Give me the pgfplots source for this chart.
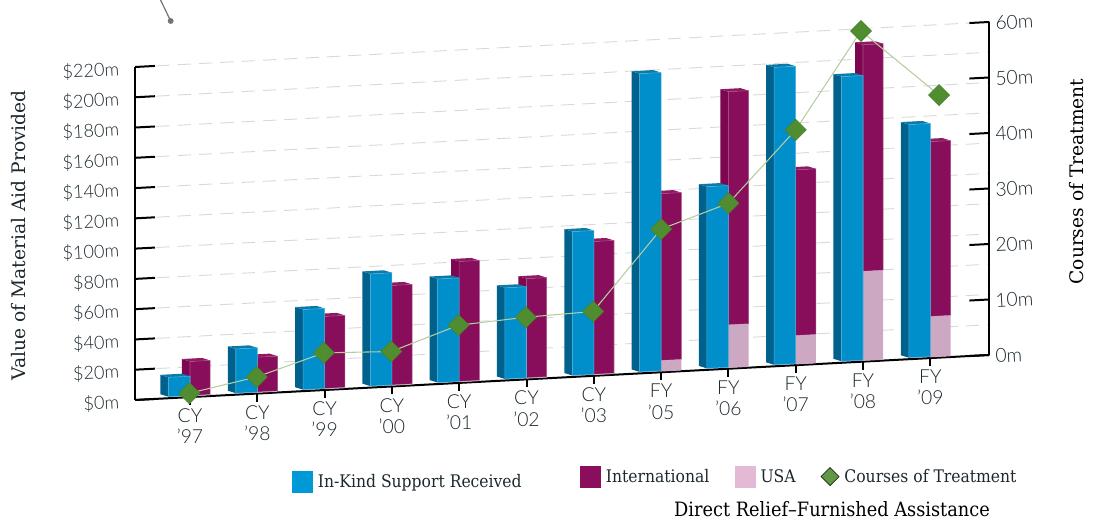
\documentclass[border=0pt]{standalone}
\usepackage{fontspec}
\usepackage{pgfplots}
\pgfplotsset{compat=1.18}
\setmainfont{Lato}
\newfontfamily\lightf{Lato Light}
\newfontfamily\slab{DejaVu Serif}
\newfontfamily\slabc{DejaVu Serif Condensed}
\definecolor{blueF}{HTML}{008FCA}
\definecolor{blueS}{HTML}{00628C}
\definecolor{blueT}{HTML}{0A7BA8}
\definecolor{blueE}{HTML}{4FB0DC}
\definecolor{intF}{HTML}{880D5B}
\definecolor{intS}{HTML}{7C0650}
\definecolor{intT}{HTML}{8F1A63}
\definecolor{intE}{HTML}{A9508A}
\definecolor{usaF}{HTML}{CDA8C3}
\definecolor{legBlue}{HTML}{0099D8}
\definecolor{legInt}{HTML}{8A0E5C}
\definecolor{legUsa}{HTML}{E3B9D6}
\definecolor{green}{HTML}{4F8D30}
\definecolor{greenL}{HTML}{B4CDA2}
\definecolor{ink}{HTML}{1C282E}

\pgfplotsset{
  skewbase/.style={
    clip=false,
    xmin=-0.817, xmax=11.877,
    at={(142.5pt,92.175pt)}, anchor=origin,
    axis line style={black,line width=1.5pt},
    major tick style={black,line width=1.5pt},
    tick label style={font=\lightf\fontsize{14.5}{16}\selectfont,text=ink},
    /pgf/number format/assume math mode=true,
    every axis y label/.style={rotate=90,anchor=center,font=\slab\fontsize{14}{16}\selectfont},
    legend cell align=left,
    legend style={draw=none,fill=none,inner sep=0pt,outer sep=0pt,
      font=\slabc\fontsize{13}{15}\selectfont,text=ink,anchor=west,
      /tikz/every odd column/.append style={column sep=2pt},
      /tikz/every even column/.append style={column sep=17pt},
      /tikz/column 4/.append style={column sep=20.75pt},
      /tikz/column 5/.append style={column sep=0pt}},
  },
  swatch/.style={legend image code/.code={\fill[#1] (0pt,-8pt) rectangle (15pt,8pt);}},
}

\begin{document}
\begin{tikzpicture}
\useasboundingbox (0pt,0pt) rectangle (821.25pt,390pt);

% left axis: bars, value in $m
\begin{axis}[skewbase,
    x={(50.475pt,2.66pt)}, y={(0pt,1.13523pt)},
    ymin=0, ymax=220,
    axis x line*=bottom, axis y line*=left,
    ytick={0,20,...,220},
    yticklabel={\$\pgfmathprintnumber{\tick}m},
    yticklabel style={font=\lightf\fontsize{13.6}{16}\selectfont,anchor=east,rotate=3,xshift=-8.5pt,yshift=-1pt},
    ytick align=inside, xtick align=outside,
    y tick style={/pgfplots/major tick length=15pt},
    x tick style={/pgfplots/major tick length=6pt},
    xtick={0,...,11},
    xticklabels={{CY\\’97},{CY\\’98},{CY\\’99},{CY\\’00},{CY\\’01},{CY\\’02},{CY\\’03},{FY\\’05},{FY\\’06},{FY\\’07},{FY\\’08},{FY\\’09}},
    xticklabel style={align=center,anchor=north,yshift=-1pt},
    ymajorgrids,
    grid style={gray!30,line width=0.7pt,dash pattern=on 10pt off 6pt},
    ylabel={Value of Material Aid Provided},
    ylabel style={at={(axis description cs:-0.1358,0.436)},text=ink},
    legend style={at={(axis description cs:0.1838,-0.217)}},
  ]
  \addlegendimage{swatch=legBlue}
  \addlegendentry{In-Kind Support Received}
  \foreach \i/\b/\n/\u in {0/13.8/23.5/1, 1/30.2/24/1, 2/53.9/48.6/1, 3/75.1/66.7/1,
      4/69.4/80.2/1, 5/61.2/66.5/1, 6/96/88.7/1, 7/198/118/7.8,
      8/121/183/29, 9/197.5/129/19.6, 10/189/209.3/59.7, 11/155/143/27.5}{
    \pgfmathsetmacro\xa{\i-0.32}
    \pgfmathsetmacro\xc{\i+0.30}
    \pgfmathsetmacro\xab{\xa-0.119}
    \pgfmathsetmacro\xbb{\i-0.119}
    \pgfmathsetmacro\xcb{\xc-0.119}
    \pgfmathsetmacro\bb{\b+1.93}
    \pgfmathsetmacro\nb{\n+1.93}
    % international: usa foot, front, side and top
    \edef\temp{
      \noexpand\addplot[forget plot,fill=intS,draw=none] coordinates {(\xbb,1) (\i,1) (\i,\n) (\xbb,\nb)} --cycle;
      \noexpand\addplot[forget plot,fill=intT,draw=none] coordinates {(\xbb,\nb) (\i,\n) (\xc,\n) (\xcb,\nb)} --cycle;
      \noexpand\addplot[forget plot,fill=intF,draw=intE,line width=0.4pt] coordinates {(\i,\u) (\xc,\u) (\xc,\n) (\i,\n)} --cycle;
      \noexpand\addplot[forget plot,fill=usaF,draw=none] coordinates {(\i,0.5) (\xc,0.5) (\xc,\u) (\i,\u)} --cycle;
      \noexpand\addplot[forget plot,fill=blueS,draw=none] coordinates {(\xab,2.9) (\xa,1) (\xa,\b) (\xab,\bb)} --cycle;
      \noexpand\addplot[forget plot,fill=blueT,draw=none] coordinates {(\xab,\bb) (\xa,\b) (\i,\b) (\xbb,\bb)} --cycle;
      \noexpand\addplot[forget plot,fill=blueF,draw=blueE,line width=0.4pt] coordinates {(\xa,1) (\i,1) (\i,\b) (\xa,\b)} --cycle;
    }
    \temp
  }
\end{axis}

% right axis: courses of treatment, in millions
\begin{axis}[skewbase,
    x={(50.475pt,2.66pt)}, y={(0pt,4.1625pt)},
    ymin=0, ymax=60,
    axis x line=none, axis y line*=right,
    ytick={0,10,...,60},
    yticklabel={\pgfmathprintnumber{\tick}m},
    yticklabel style={anchor=west,rotate=3,xshift=1pt,yshift=-1pt},
    y tick style={/pgfplots/major tick length=15pt},
    tick align=inside,
    ylabel={Courses of Treatment},
    ylabel style={at={(axis description cs:1.1026,0.578)},text=black},
    legend columns=3,
    legend style={at={(axis description cs:0.5209,-0.2026)}},
  ]
  \addplot[forget plot,greenL,line width=0.8pt,
      mark=square*,mark size=5.6pt,
      mark options={rotate=45,fill=green,draw=green!92!black,line width=0.4pt}]
    coordinates {(-0.01,0.7) (0.99,3.0) (1.99,6.7) (2.99,6.3) (3.99,10.4) (4.99,11.2)
      (5.99,11.6) (7,25.8) (8,29.8) (9,42.4) (9.97,59.6) (11.13,47.3)};
  \addlegendimage{swatch=legInt}
  \addlegendentry{International}
  \addlegendimage{swatch=legUsa}
  \addlegendentry{USA}
  \addlegendimage{only marks,mark=square*,mark size=4.8pt,
      mark options={rotate=45,fill=green!90!white,draw=none}}
  \addlegendentry{Courses of Treatment}
\end{axis}

\node[font=\slabc\fontsize{14.8}{17}\selectfont,text=black] at (624pt,8pt) {Direct Relief–Furnished Assistance};
\draw[gray!90!black,line width=0.9pt] (120.4pt,390pt) -- (128pt,374.25pt);
\fill[gray!90!black] (128pt,374.25pt) circle (2.2pt);
\end{tikzpicture}
\end{document}
